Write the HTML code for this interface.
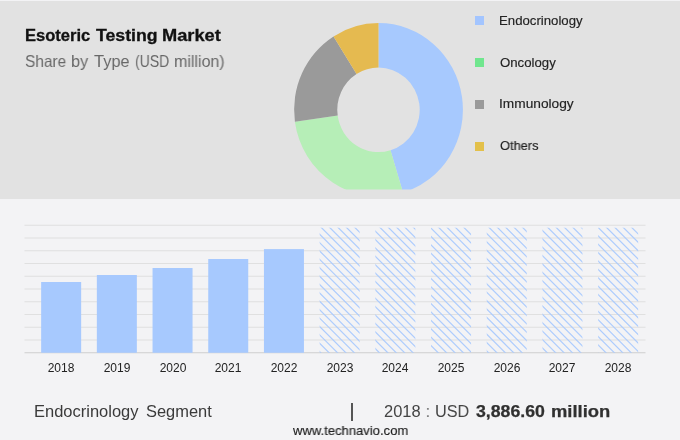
<!DOCTYPE html>
<html><head><meta charset="utf-8"><title>Esoteric Testing Market</title>
<style>
html,body{margin:0;padding:0}
body{width:680px;height:440px;position:relative;overflow:hidden;background:#f3f3f5;font-family:"Liberation Sans","DejaVu Sans",sans-serif;color:#222}
.top{position:absolute;left:0;top:1px;width:680px;height:198px;background:#e2e2e2}
svg{position:absolute;left:0;top:0}
.t{position:absolute;white-space:nowrap;line-height:1;transform-origin:0 0;will-change:transform}
.ti{font-weight:bold;color:#111;-webkit-text-stroke:0.3px #111}
.su{color:#686868}
.lg{color:#222;-webkit-text-stroke:0.15px #222}
.sg{color:#3a3a3a}
.va{color:#444}
.vb{font-weight:bold;color:#303030;-webkit-text-stroke:0.25px #303030}
.ww{color:#222;-webkit-text-stroke:0.15px #222}
.sq{position:absolute;left:475px;width:9px;height:9px}
.yr{position:absolute;top:361px;width:60px;text-align:center;font-size:12px;line-height:14px;color:#222;will-change:transform}
.bar{position:absolute;left:351.25px;top:402.5px;width:1.7px;height:18px;background:#555}
</style></head><body>
<div class="top"></div>
<svg width="680" height="440" viewBox="0 0 680 440">
<defs>
<clipPath id="hc"><rect x="319.65" y="227.7" width="40" height="125.05"/><rect x="375.35" y="227.7" width="40" height="125.05"/><rect x="431.05" y="227.7" width="40" height="125.05"/><rect x="486.75" y="227.7" width="40" height="125.05"/><rect x="542.45" y="227.7" width="40" height="125.05"/><rect x="598.15" y="227.7" width="40" height="125.05"/></clipPath>
<clipPath id="c"><rect x="280" y="0" width="200" height="189.6"/></clipPath>
</defs>
<g clip-path="url(#c)"><g transform="translate(0 109.8) scale(1 1.027) translate(0 -109.8)"><path d="M378.50 25.40A84.4 84.4 0 0 1 403.04 190.56L390.48 149.22A41.2 41.2 0 0 0 378.50 68.60Z" fill="#a7c9fe"/><path d="M403.04 190.56A84.4 84.4 0 0 1 294.90 121.40L337.69 115.46A41.2 41.2 0 0 0 390.48 149.22Z" fill="#b6eeb7"/><path d="M294.90 121.40A84.4 84.4 0 0 1 333.53 38.38L356.55 74.94A41.2 41.2 0 0 0 337.69 115.46Z" fill="#9a9a9a"/><path d="M333.53 38.38A84.4 84.4 0 0 1 378.50 25.40L378.50 68.60A41.2 41.2 0 0 0 356.55 74.94Z" fill="#e5ba50"/></g></g>
<rect x="24.5" y="224.75" width="621" height="1" fill="#e0e0e0"/><rect x="24.5" y="237.50" width="621" height="1" fill="#e0e0e0"/><rect x="24.5" y="250.25" width="621" height="1" fill="#e0e0e0"/><rect x="24.5" y="263.00" width="621" height="1" fill="#e0e0e0"/><rect x="24.5" y="275.75" width="621" height="1" fill="#e0e0e0"/><rect x="24.5" y="288.50" width="621" height="1" fill="#e0e0e0"/><rect x="24.5" y="301.25" width="621" height="1" fill="#e0e0e0"/><rect x="24.5" y="314.00" width="621" height="1" fill="#e0e0e0"/><rect x="24.5" y="326.75" width="621" height="1" fill="#e0e0e0"/><rect x="24.5" y="339.50" width="621" height="1" fill="#e0e0e0"/><rect x="24.5" y="352.25" width="621" height="1" fill="#cecece"/>
<rect x="41.15" y="282" width="40" height="70.75" fill="#a7c9fe"/><rect x="96.85" y="275" width="40" height="77.75" fill="#a7c9fe"/><rect x="152.55" y="268" width="40" height="84.75" fill="#a7c9fe"/><rect x="208.25" y="259" width="40" height="93.75" fill="#a7c9fe"/><rect x="263.95" y="249.1" width="40" height="103.65" fill="#a7c9fe"/>
<g clip-path="url(#hc)"><path d="M159.39 225L289.39 355M167.78 225L297.78 355M176.17 225L306.17 355M184.56 225L314.56 355M192.95 225L322.95 355M201.34 225L331.34 355M209.73 225L339.73 355M218.12 225L348.12 355M226.51 225L356.51 355M234.90 225L364.90 355M243.29 225L373.29 355M251.68 225L381.68 355M260.07 225L390.07 355M268.46 225L398.46 355M276.85 225L406.85 355M285.24 225L415.24 355M293.63 225L423.63 355M302.02 225L432.02 355M310.41 225L440.41 355M318.80 225L448.80 355M327.19 225L457.19 355M335.58 225L465.58 355M343.97 225L473.97 355M352.36 225L482.36 355M360.75 225L490.75 355M369.14 225L499.14 355M377.53 225L507.53 355M385.92 225L515.92 355M394.31 225L524.31 355M402.70 225L532.70 355M411.09 225L541.09 355M419.48 225L549.48 355M427.87 225L557.87 355M436.26 225L566.26 355M444.65 225L574.65 355M453.04 225L583.04 355M461.43 225L591.43 355M469.82 225L599.82 355M478.21 225L608.21 355M486.60 225L616.60 355M494.99 225L624.99 355M503.38 225L633.38 355M511.77 225L641.77 355M520.16 225L650.16 355M528.55 225L658.55 355M536.94 225L666.94 355M545.33 225L675.33 355M553.72 225L683.72 355M562.11 225L692.11 355M570.50 225L700.50 355M578.89 225L708.89 355M587.28 225L717.28 355M595.67 225L725.67 355M604.06 225L734.06 355M612.45 225L742.45 355M620.84 225L750.84 355M629.23 225L759.23 355M637.62 225L767.62 355" stroke="#a7c9fe" stroke-opacity="0.92" stroke-width="1.2" fill="none"/></g>
</svg>
<div class="sq" style="top:16px;background:#a3c5ff"></div>
<div class="sq" style="top:58px;background:#70e68e"></div>
<div class="sq" style="top:100px;background:#9a9a9a"></div>
<div class="sq" style="top:142px;background:#e3c04a"></div>
<div class="yr" style="left:31.15px">2018</div><div class="yr" style="left:86.85px">2019</div><div class="yr" style="left:142.55px">2020</div><div class="yr" style="left:198.25px">2021</div><div class="yr" style="left:253.95px">2022</div><div class="yr" style="left:309.65px">2023</div><div class="yr" style="left:365.35px">2024</div><div class="yr" style="left:421.05px">2025</div><div class="yr" style="left:476.75px">2026</div><div class="yr" style="left:532.45px">2027</div><div class="yr" style="left:588.15px">2028</div>
<div class="bar"></div>
<span class="t ti" style="left:24.80px;top:27.13px;font-size:16.5px;transform:scaleX(1.0025)">Esoteric</span>
<span class="t ti" style="left:95.70px;top:27.13px;font-size:16.5px;transform:scaleX(1.0734)">Testing</span>
<span class="t ti" style="left:161.79px;top:27.13px;font-size:16.5px;transform:scaleX(1.1064)">Market</span>
<span class="t su" style="left:25.00px;top:52.53px;font-size:16.5px;transform:scaleX(0.9372)">Share</span>
<span class="t su" style="left:71.32px;top:52.53px;font-size:16.5px;transform:scaleX(0.9781)">by</span>
<span class="t su" style="left:93.80px;top:52.53px;font-size:16.5px;transform:scaleX(0.9945)">Type</span>
<span class="t su" style="left:134.55px;top:52.53px;font-size:16.5px;transform:scaleX(0.8474)">(USD</span>
<span class="t su" style="left:173.73px;top:52.53px;font-size:16.5px;transform:scaleX(0.9693)">million)</span>
<span class="t lg" style="left:499.10px;top:14.03px;font-size:13.2px;transform:scaleX(1.0002)">Endocrinology</span>
<span class="t lg" style="left:500.10px;top:55.63px;font-size:13.2px;transform:scaleX(1.0015)">Oncology</span>
<span class="t lg" style="left:498.66px;top:97.13px;font-size:13.2px;transform:scaleX(1.0402)">Immunology</span>
<span class="t lg" style="left:499.90px;top:138.73px;font-size:13.2px;transform:scaleX(0.9729)">Others</span>
<span class="t sg" style="left:33.88px;top:403.09px;font-size:16.2px;transform:scaleX(1.0186)">Endocrinology</span>
<span class="t sg" style="left:145.50px;top:403.09px;font-size:16.2px;transform:scaleX(1.0154)">Segment</span>
<span class="t va" style="left:383.80px;top:402.60px;font-size:16.3px;transform:scaleX(1.0120)">2018</span>
<span class="t va" style="left:425.57px;top:402.60px;font-size:16.3px;transform:scaleX(0.8333)">:</span>
<span class="t va" style="left:434.70px;top:402.60px;font-size:16.3px;transform:scaleX(0.9964)">USD</span>
<span class="t vb" style="left:475.70px;top:402.60px;font-size:16.3px;transform:scaleX(1.0865)">3,886.60</span>
<span class="t vb" style="left:551.07px;top:402.60px;font-size:16.3px;transform:scaleX(1.1303)">million</span>
<span class="t ww" style="left:292.79px;top:423.63px;font-size:13.2px;transform:scaleX(0.9894)">www.technavio.com</span>

</body></html>
